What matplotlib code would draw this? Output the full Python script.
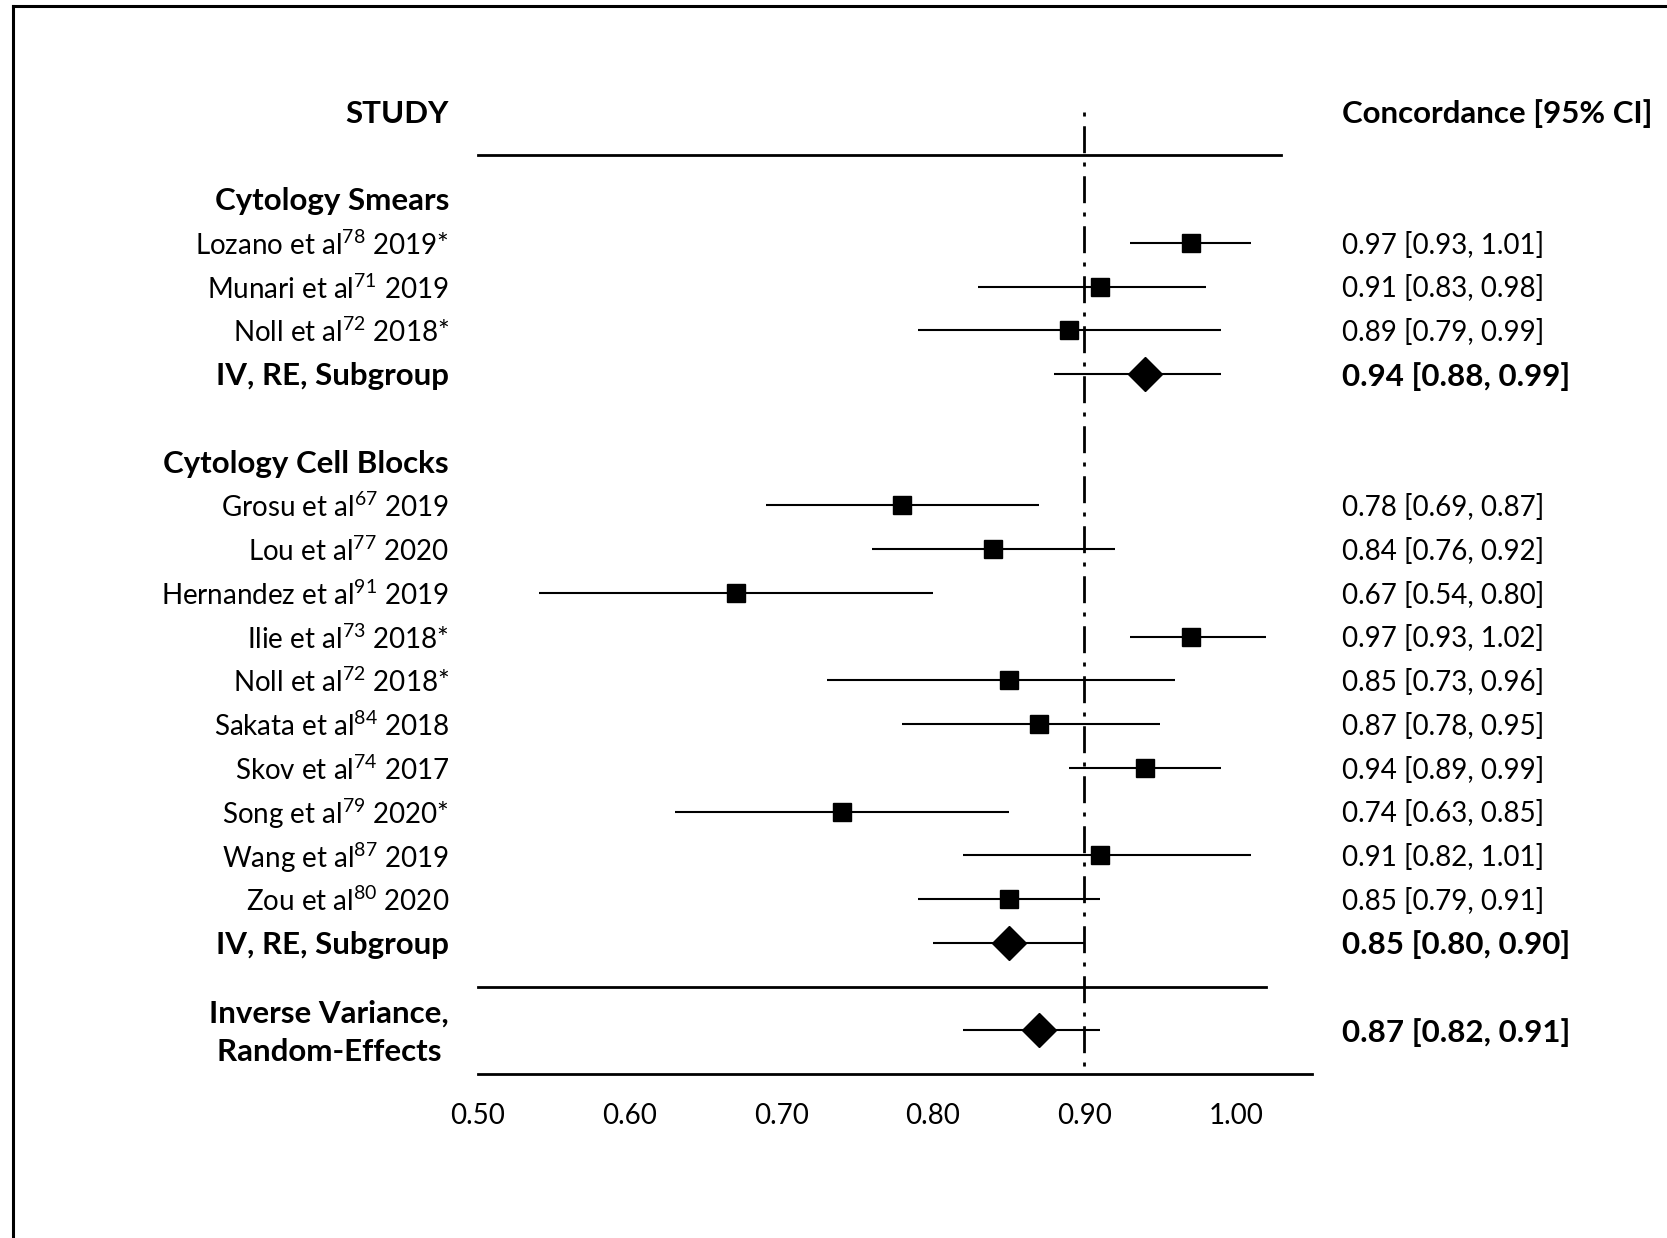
import matplotlib
matplotlib.use('Agg')
import matplotlib.pyplot as plt
from matplotlib.lines import Line2D

plt.rcParams['font.family'] = ['Lato', 'DejaVu Sans']
plt.rcParams['mathtext.fontset'] = 'custom'
plt.rcParams['mathtext.rm'] = 'Lato'
plt.rcParams['lines.scale_dashes'] = False

# data
smear_authors = ['Lozano', 'Munari', 'Noll']
smear_refs = ['78', '71', '72']
smear_years = ['2019*', '2019', '2018*']
smear_est = [0.97, 0.91, 0.89]
smear_lo = [0.93, 0.83, 0.79]
smear_hi = [1.01, 0.98, 0.99]
smear_pool = [0.94, 0.88, 0.99]

block_authors = ['Grosu', 'Lou', 'Hernandez', 'Ilie', 'Noll', 'Sakata',
                 'Skov', 'Song', 'Wang', 'Zou']
block_refs = ['67', '77', '91', '73', '72', '84', '74', '79', '87', '80']
block_years = ['2019', '2020', '2019', '2018*', '2018*', '2018', '2017',
               '2020*', '2019', '2020']
block_est = [0.78, 0.84, 0.67, 0.97, 0.85, 0.87, 0.94, 0.74, 0.91, 0.85]
block_lo = [0.69, 0.76, 0.54, 0.93, 0.73, 0.78, 0.89, 0.63, 0.82, 0.79]
block_hi = [0.87, 0.92, 0.80, 1.02, 0.96, 0.95, 0.99, 0.85, 1.01, 0.91]
block_pool = [0.85, 0.80, 0.90]

overall = [0.87, 0.82, 0.91]
xticks = [0.50, 0.60, 0.70, 0.80, 0.90, 1.00]
ref_line = 0.90

W, H = 1667, 1238
fig = plt.figure(figsize=(W / 100, H / 100), dpi=100)
ax = fig.add_axes([0, 0, 1, 1])

# map data -> pixel layout of the original
px50, ux = 478, 1516.0
ax.set_xlim(0.5 - px50 / ux, 0.5 + (W - px50) / ux)
r0, dr = 111.6, 43.75
ax.set_ylim((H - r0) / dr, -r0 / dr)
ax.axis('off')

FS = 20      # regular text
FB = 22.5    # bold text
dy = 0.05    # small nudge so text sits on the row centre
x_lab = 0.5 - (478 - 449) / ux
x_val = 0.5 + (1342 - 478) / ux


def ci_text(e, lo, hi):
    return '%.2f [%.2f, %.2f]' % (e, lo, hi)


def study_row(r, author, ref, year, e, lo, hi):
    ax.plot([lo, hi], [r, r], color='black', lw=1.5, solid_capstyle='butt')
    ax.plot([e], [r], marker='s', ms=13.5, color='black', ls='none')
    ax.text(x_lab, r + dy, author + ' et al$^{\\mathregular{' + ref + '}}$ ' + year,
            ha='right', va='center', fontsize=FS)
    ax.text(x_val, r + dy, ci_text(e, lo, hi), ha='left', va='center', fontsize=FS)


def pooled_row(r, label, pool):
    e, lo, hi = pool
    ax.plot([lo, hi], [r, r], color='black', lw=1.5, solid_capstyle='butt')
    ax.plot([e], [r], marker='D', ms=17.5, color='black', ls='none')
    ax.text(x_lab, r + dy, label, ha='right', va='center', fontsize=FB,
            fontweight='bold', multialignment='right', linespacing=1.45)
    ax.text(x_val, r + dy, ci_text(e, lo, hi), ha='left', va='center',
            fontsize=FB, fontweight='bold')


# headers
ax.text(x_lab, dy, 'STUDY', ha='right', va='center', fontsize=FB, fontweight='bold')
ax.text(x_val, dy, 'Concordance [95% CI]', ha='left', va='center',
        fontsize=FB, fontweight='bold')
ax.plot([0.5, 1.03], [1, 1], color='black', lw=2)

r = 2
ax.text(x_lab, r + dy, 'Cytology Smears', ha='right', va='center', fontsize=FB,
        fontweight='bold')
for i in range(len(smear_est)):
    r += 1
    study_row(r, smear_authors[i], smear_refs[i], smear_years[i],
              smear_est[i], smear_lo[i], smear_hi[i])
r += 1
pooled_row(r, 'IV, RE, Subgroup', smear_pool)

r += 2
ax.text(x_lab, r + dy, 'Cytology Cell Blocks', ha='right', va='center', fontsize=FB,
        fontweight='bold')
for i in range(len(block_est)):
    r += 1
    study_row(r, block_authors[i], block_refs[i], block_years[i],
              block_est[i], block_lo[i], block_hi[i])
r += 1
pooled_row(r, 'IV, RE, Subgroup', block_pool)

r += 1
ax.plot([0.5, 1.02], [r, r], color='black', lw=2)
r += 1
pooled_row(r, 'Inverse Variance,\nRandom-Effects ', overall)
r += 1
ax.plot([0.5, 1.05], [r, r], color='black', lw=2)

# reference line
ax.plot([ref_line, ref_line], [0, r], color='black', lw=2,
        dashes=(2.9, 7.0, 19.4, 6.7), zorder=1)

for t in xticks:
    ax.text(t, r + 0.95, '%.2f' % t, ha='center', va='center', fontsize=FS)

# partial frame around the figure (left and top edges)
fig.add_artist(Line2D([13 / W, 13 / W], [0, 1 - 5.5 / H], color='black', lw=2.2))
fig.add_artist(Line2D([13 / W, 1], [1 - 5.5 / H, 1 - 5.5 / H], color='black', lw=2.2))

fig.savefig('out.png', dpi=100)
